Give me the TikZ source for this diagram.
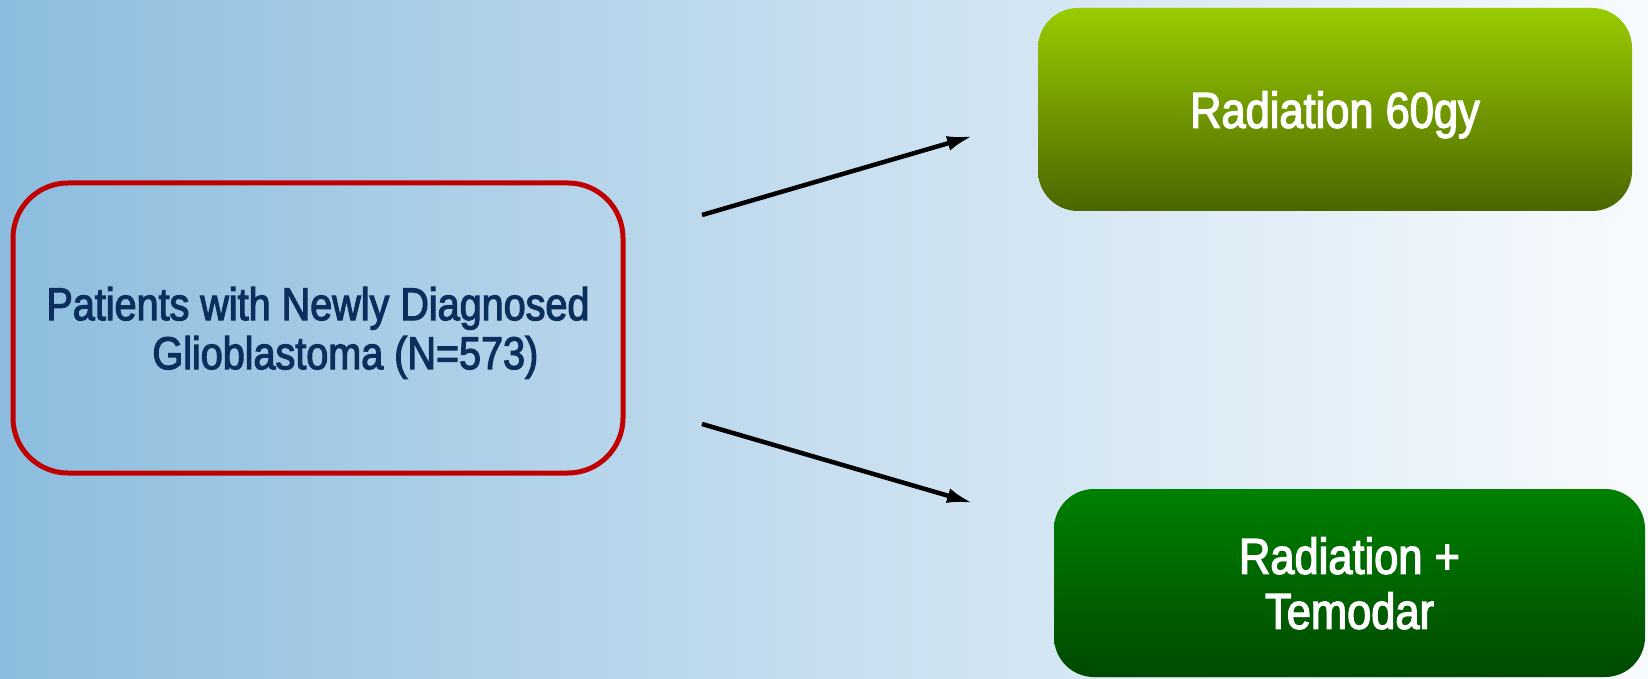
\documentclass[tikz,border=0pt]{standalone}
\usepackage{fontspec}
\setmainfont[FakeStretch=0.87]{Liberation Sans}
\newfontfamily\boxfont[FakeStretch=0.86,FakeBold=2.5]{Liberation Sans}
\usetikzlibrary{arrows.meta}

\definecolor{bgLeft}{RGB}{140,189,222}
\definecolor{bgMid}{RGB}{198,222,239}
\definecolor{bgRight}{RGB}{248,251,254}
\definecolor{borderRed}{RGB}{192,0,0}
\definecolor{textNavy}{RGB}{11,47,92}
\definecolor{limeTop}{RGB}{153,204,0}
\definecolor{limeBottom}{RGB}{74,102,0}
\definecolor{greenTop}{RGB}{0,128,0}
\definecolor{greenBottom}{RGB}{0,74,0}

\begin{document}
\begin{tikzpicture}[x=1pt,y=1pt,
  patientbox/.style={draw=borderRed,line width=5pt,rounded corners=55pt,
    minimum width=610pt,minimum height=290pt,inner sep=0pt,text depth=0pt,
    text=textNavy,align=left,font=\boxfont\fontsize{46}{49}\selectfont},
  armbox/.style={rounded corners=40pt,inner sep=0pt,text=white,text depth=0pt,
    align=center,font=\boxfont\fontsize{50.5}{55}\selectfont},
  arm/.style={draw=black,line width=4.5pt,-{Latex[length=26pt,width=15pt]}}]
\path[use as bounding box] (0,0) rectangle (1648,678);
\shade[left color=bgLeft,right color=bgRight,middle color=bgMid] (0,0) rectangle (1648,678);

% enrolment
\node[patientbox] (patients) at (318,350)
  {Patients with Newly Diagnosed\\\hspace*{106pt}Glioblastoma (N=573)};

% treatment arms
\node[armbox,minimum width=594pt,minimum height=203pt,
  top color=limeTop,bottom color=limeBottom] (radiation) at (1335,568.5)
  {Radiation 60gy};
\node[armbox,minimum width=591pt,minimum height=188pt,
  top color=greenTop,bottom color=greenBottom] (temodar) at (1349.5,95)
  {Radiation +\\Temodar};

% randomisation arrows
\coordinate (upStart) at (702,463);
\coordinate (upEnd) at (973,542);
\coordinate (downStart) at (702,254);
\coordinate (downEnd) at (973,175);
\draw[arm] (upStart) -- (upEnd);
\draw[arm] (downStart) -- (downEnd);
\end{tikzpicture}
\end{document}
